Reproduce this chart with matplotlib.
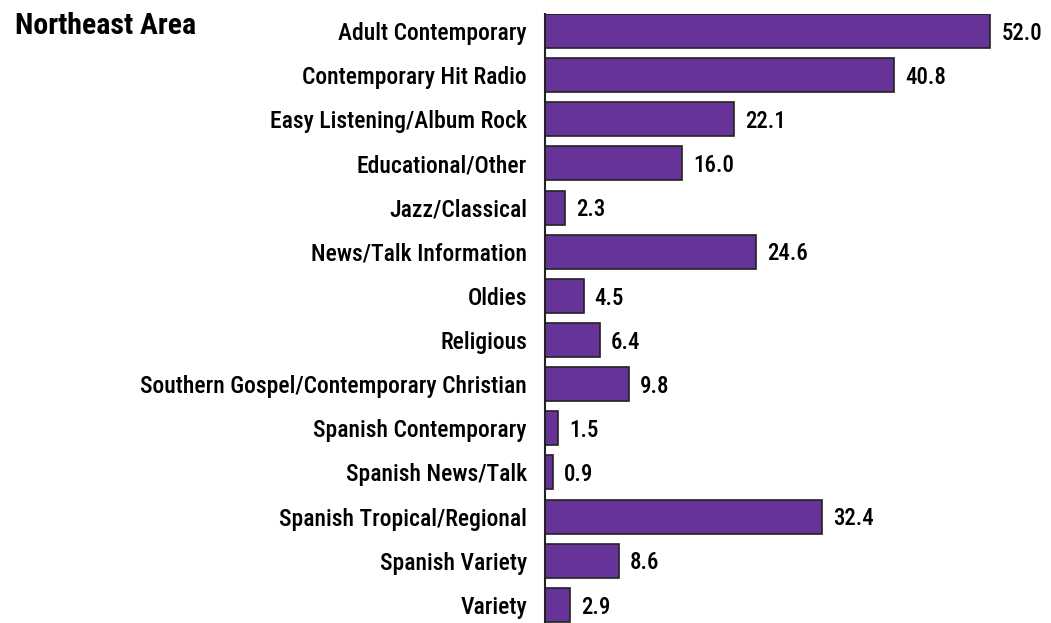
import matplotlib.pyplot as plt

categories = ['Adult Contemporary', 'Contemporary Hit Radio', 'Easy Listening/Album Rock',
              'Educational/Other', 'Jazz/Classical', 'News/Talk Information', 'Oldies',
              'Religious', 'Southern Gospel/Contemporary Christian', 'Spanish Contemporary',
              'Spanish News/Talk', 'Spanish Tropical/Regional', 'Spanish Variety', 'Variety']
values = [52.0, 40.8, 22.1, 16.0, 2.3, 24.6, 4.5, 6.4, 9.8, 1.5, 0.9, 32.4, 8.6, 2.9]

plt.rcParams['font.family'] = ['Roboto Condensed', 'DejaVu Sans']

fig = plt.figure(figsize=(10.51, 6.23), dpi=100)
ax = fig.add_axes([545 / 1051, 0, 1 - 545 / 1051, 1 - 14 / 623])

pos = list(range(len(categories)))
ax.barh(pos, values, height=0.77, color='#663399', edgecolor='#222222', linewidth=1.2)

for y, v in zip(pos, values):
    ax.text(v + 1.3, y + 0.05, f'{v:.1f}', va='center', ha='left', fontsize=16.5,
            fontweight='medium')

ax.set_xlim(0, 59.1)
ax.set_ylim(13.41, -0.385)
ax.set_yticks(pos)
ax.set_yticklabels(categories, fontsize=17, fontweight='medium')
ax.tick_params(axis='y', length=0, pad=13)
ax.set_xticks([])
for side in ['top', 'right', 'bottom']:
    ax.spines[side].set_visible(False)
ax.spines['left'].set_linewidth(1.5)
ax.spines['left'].set_color('#222222')

fig.text(15 / 1051, 1 - 26 / 623, 'Northeast Area', fontsize=21.5, fontweight='bold',
         va='center', ha='left')

fig.savefig('out.png', dpi=100)
